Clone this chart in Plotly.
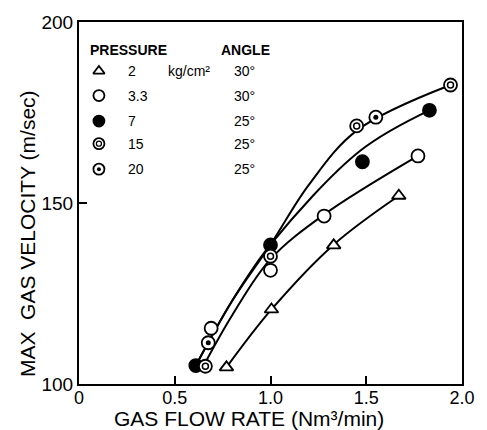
import plotly.graph_objects as go

# ---- data ----
tri_x = [0.77, 1.005, 1.33, 1.67]
tri_y = [104.6, 120.6, 138.3, 152.0]

open_x = [0.69, 1.0, 1.28, 1.77]
open_y = [115.4, 131.4, 146.4, 163.0]

fill_x = [0.61, 1.0, 1.48, 1.83]
fill_y = [105.1, 138.4, 161.4, 175.6]

p15_x = [0.66, 1.0, 1.45, 1.94]
p15_y = [104.9, 135.3, 171.3, 182.6]

p20_x = [0.675, 1.55]
p20_y = [111.4, 173.7]

# smooth curves drawn through the points
c_tri_x = [0.77, 1.005, 1.33, 1.67]
c_tri_y = [104.6, 120.6, 138.5, 152.0]
c_open_x = [0.65, 0.8, 1.0, 1.28, 1.77]
c_open_y = [105.0, 119.0, 134.5, 146.8, 163.0]
c_fill_x = [0.61, 0.8, 1.0, 1.47, 1.83]
c_fill_y = [105.1, 123.0, 138.5, 164.5, 175.6]
c_top_x = [0.61, 0.8, 1.0, 1.2, 1.45, 1.94]
c_top_y = [105.1, 123.0, 138.5, 155.0, 170.0, 182.6]

x_ticks = [0, 0.5, 1.0, 1.5, 2.0]
x_ticktext = ["0", "0.5", "1.0", "1.5", "2.0"]
y_ticks = [100, 150, 200]

legend_pressure = ["2", "3.3", "7", "15", "20"]
legend_angle = ["30°", "30°", "25°", "25°", "25°"]

FONT = "Liberation Sans"
BLK = "black"

fig = go.Figure()

for cx, cy in [(c_tri_x, c_tri_y), (c_open_x, c_open_y), (c_fill_x, c_fill_y), (c_top_x, c_top_y)]:
    fig.add_trace(go.Scatter(x=cx, y=cy, mode="lines", line=dict(color=BLK, width=2, shape="spline", smoothing=1.0),
                             showlegend=False, hoverinfo="skip"))

mk_line = dict(color=BLK, width=1.8)
fig.add_trace(go.Scatter(x=tri_x, y=tri_y, mode="markers",
                         marker=dict(symbol="triangle-up", size=12, color="white", line=mk_line), showlegend=False))
fig.add_trace(go.Scatter(x=open_x, y=open_y, mode="markers",
                         marker=dict(symbol="circle", size=13, color="white", line=mk_line), showlegend=False))
fig.add_trace(go.Scatter(x=fill_x, y=fill_y, mode="markers",
                         marker=dict(symbol="circle", size=13, color=BLK, line=mk_line), showlegend=False))
fig.add_trace(go.Scatter(x=p15_x, y=p15_y, mode="markers",
                         marker=dict(symbol="circle", size=13, color="white", line=mk_line), showlegend=False))
fig.add_trace(go.Scatter(x=p15_x, y=p15_y, mode="markers",
                         marker=dict(symbol="circle-open", size=6, color=BLK, line=dict(color=BLK, width=1.5)), showlegend=False))
fig.add_trace(go.Scatter(x=p20_x, y=p20_y, mode="markers",
                         marker=dict(symbol="circle", size=13, color="white", line=mk_line), showlegend=False))
fig.add_trace(go.Scatter(x=p20_x, y=p20_y, mode="markers",
                         marker=dict(symbol="circle", size=5, color=BLK), showlegend=False))

# ---- legend key (on an overlay axis spanning the plot area) ----
row_y = [0.8645, 0.7967, 0.7263, 0.664, 0.5935]
key_x = 0.052
leg_styles = [
    [dict(symbol="triangle-up", size=10, color="white", line=mk_line)],
    [dict(symbol="circle", size=11, color="white", line=mk_line)],
    [dict(symbol="circle", size=11, color=BLK, line=mk_line)],
    [dict(symbol="circle", size=11, color="white", line=mk_line),
     dict(symbol="circle-open", size=5, color=BLK, line=dict(color=BLK, width=1.3))],
    [dict(symbol="circle", size=11, color="white", line=mk_line),
     dict(symbol="circle", size=4, color=BLK)],
]
for ry, styles in zip(row_y, leg_styles):
    for st in styles:
        fig.add_trace(go.Scatter(x=[key_x], y=[ry], xaxis="x2", yaxis="y2", mode="markers",
                                 marker=st, showlegend=False, hoverinfo="skip"))

ann = []
ann.append(dict(x=0.023, y=0.924, text="<b>PRESSURE</b>", xanchor="left"))
ann.append(dict(x=0.365, y=0.924, text="<b>ANGLE</b>", xanchor="left"))
for i, (p, a) in enumerate(zip(legend_pressure, legend_angle)):
    ann.append(dict(x=0.124, y=row_y[i], text=p, xanchor="left"))
    ann.append(dict(x=0.399, y=row_y[i], text=a, xanchor="left"))
ann.append(dict(x=0.228, y=row_y[0], text="kg/cm²", xanchor="left"))
annotations = []
for a in ann:
    a.update(xref="paper", yref="paper", yanchor="middle", showarrow=False,
             font=dict(family=FONT, size=14, color=BLK))
    annotations.append(a)

# axis titles
annotations.append(dict(x=-0.135, y=0.415, xref="paper", yref="paper", text="MAX  GAS VELOCITY (m/sec)",
                        textangle=-90, showarrow=False, xanchor="center", yanchor="middle",
                        font=dict(family=FONT, size=21, color=BLK)))
annotations.append(dict(x=0.443, y=-0.095, xref="paper", yref="paper", text="GAS FLOW RATE (Nm³/min)",
                        showarrow=False, xanchor="center", yanchor="middle",
                        font=dict(family=FONT, size=21, color=BLK)))

fig.update_layout(
    width=487, height=430,
    margin=dict(l=79, r=22, t=15, b=46),
    paper_bgcolor="white", plot_bgcolor="white",
    showlegend=False,
    annotations=annotations,
    xaxis=dict(range=[0, 2], tickvals=x_ticks, ticktext=x_ticktext, ticks="inside", ticklen=8,
               tickwidth=2, tickcolor=BLK, showline=True, linecolor=BLK, linewidth=2, mirror=True,
               showgrid=False, zeroline=False, ticklabelstandoff=-4,
               tickfont=dict(family=FONT, size=18, color=BLK)),
    yaxis=dict(range=[100, 200], tickvals=y_ticks, ticks="inside", ticklen=8,
               tickwidth=2, tickcolor=BLK, showline=True, linecolor=BLK, linewidth=2, mirror=True,
               showgrid=False, zeroline=False, tickfont=dict(family=FONT, size=19, color=BLK)),
    xaxis2=dict(range=[0, 1], overlaying="x", visible=False, fixedrange=True),
    yaxis2=dict(range=[0, 1], overlaying="y", visible=False, fixedrange=True),
)

fig.write_html("out.html")
